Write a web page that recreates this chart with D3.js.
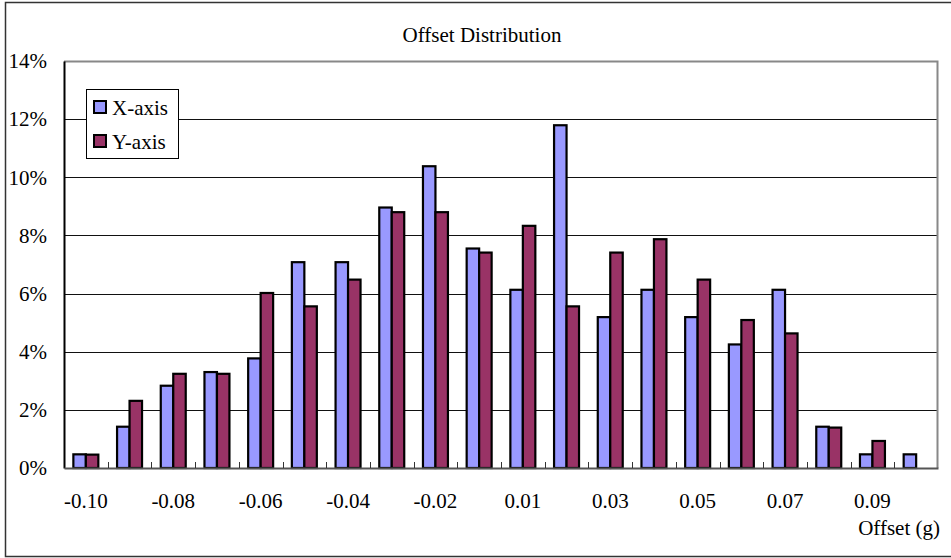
<!DOCTYPE html>
<html>
<head>
<meta charset="utf-8">
<script src="https://cdn.jsdelivr.net/npm/d3@7"></script>
<style>
  html, body { margin: 0; padding: 0; background: #fff; }
  svg { display: block; font-family: 'Liberation Serif', 'Times New Roman', serif; }
</style>
</head>
<body>
<svg id="chart"></svg>
<script>
const categories = ['-0.10', '-0.09', '-0.08', '-0.07', '-0.06', '-0.05', '-0.04', '-0.03', '-0.02', '-0.01',
  '0.01', '0.02', '0.03', '0.04', '0.05', '0.06', '0.07', '0.08', '0.09', '0.10'];
const shownLabels = ['-0.10', '-0.08', '-0.06', '-0.04', '-0.02', '0.01', '0.03', '0.05', '0.07', '0.09'];
const seriesNames = ['X-axis', 'Y-axis'];
const xAxisValues = [0.47, 1.42, 2.83, 3.30, 3.77, 7.08, 7.08, 8.96, 10.38, 7.55,
  6.13, 11.79, 5.19, 6.13, 5.19, 4.25, 6.13, 1.42, 0.47, 0.47];
const yAxisValues = [0.46, 2.31, 3.24, 3.24, 6.02, 5.56, 6.48, 8.80, 8.80, 7.41,
  8.33, 5.56, 7.41, 7.87, 6.48, 5.09, 4.63, 1.39, 0.93, 0];
const yTicks = [0, 2, 4, 6, 8, 10, 12, 14];

const W = 951, H = 558;
const margin = { top: 61, right: 13, bottom: 90, left: 64 };
const width = W - margin.left - margin.right;
const height = H - margin.top - margin.bottom;
const colors = { 'X-axis': '#9999ff', 'Y-axis': '#993366' };
const fontSize = '21px';
const serif = "'Liberation Serif', 'Times New Roman', serif";

const root = d3.select('#chart').attr('width', W).attr('height', H);

// outer chart frame (right side runs off the picture)
root.append('rect')
  .attr('x', 5.5).attr('y', 2.5)
  .attr('width', W + 20).attr('height', 554)
  .attr('fill', 'none')
  .attr('stroke', '#333')
  .attr('stroke-width', 1.5);

root.append('text')
  .attr('x', 482)
  .attr('y', 42)
  .attr('text-anchor', 'middle')
  .style('font-size', fontSize)
  .text('Offset Distribution');

const svg = root.append('g')
  .attr('transform', `translate(${margin.left},${margin.top})`);

const x0 = d3.scaleBand().domain(categories).range([0, width]).paddingInner(0).paddingOuter(0);
const x1 = d3.scaleBand().domain(seriesNames).range([0, x0.bandwidth()]).paddingInner(0).paddingOuter(0.75);
const y = d3.scaleLinear().domain([0, 14]).range([height, 0]);

// gridlines
svg.append('g')
  .selectAll('line')
  .data(yTicks.filter(d => d > 0 && d < 14))
  .join('line')
  .attr('x1', 0).attr('x2', width)
  .attr('y1', d => Math.round(y(d)) + 0.5)
  .attr('y2', d => Math.round(y(d)) + 0.5)
  .attr('stroke', '#111')
  .attr('stroke-width', 1);

// plot area border (top / right)
svg.append('path')
  .attr('d', `M0,0.5H${width - 0.5}V${height}`)
  .attr('fill', 'none')
  .attr('stroke', '#888')
  .attr('stroke-width', 2);

// bars
const rows = categories.map((c, i) => ({ cat: c, vals: [xAxisValues[i], yAxisValues[i]] }));
svg.append('g')
  .selectAll('g')
  .data(rows)
  .join('g')
  .attr('transform', d => `translate(${x0(d.cat)},0)`)
  .selectAll('rect')
  .data(d => seriesNames.map((s, j) => ({ name: s, value: d.vals[j] })).filter(d => d.value > 0))
  .join('rect')
  .attr('x', d => x1(d.name))
  .attr('y', d => y(d.value))
  .attr('width', x1.bandwidth())
  .attr('height', d => height - y(d.value))
  .attr('fill', d => colors[d.name])
  .attr('stroke', '#000')
  .attr('stroke-width', 2.2);

// y axis
const yAxis = svg.append('g')
  .call(d3.axisLeft(y).tickValues(yTicks).tickFormat(d => d + '%').tickSize(0).tickPadding(17));
yAxis.select('.domain').attr('stroke', '#000').attr('stroke-width', 2);
yAxis.selectAll('text')
  .style('font-size', fontSize)
  .style('font-family', serif)
  .attr('fill', '#000');

// x axis
const xAxis = svg.append('g')
  .attr('transform', `translate(0,${height})`)
  .call(d3.axisBottom(x0).tickValues(shownLabels).tickSize(0).tickPadding(25));
xAxis.select('.domain').attr('stroke', '#555').attr('stroke-width', 2);
xAxis.selectAll('text')
  .style('font-size', fontSize)
  .style('font-family', serif)
  .attr('fill', '#000');

// category boundary ticks, pointing inward
svg.append('g')
  .selectAll('line')
  .data(categories.slice(1))
  .join('line')
  .attr('x1', d => Math.round(x0(d)) + 0.5)
  .attr('x2', d => Math.round(x0(d)) + 0.5)
  .attr('y1', height)
  .attr('y2', height - 6)
  .attr('stroke', '#333')
  .attr('stroke-width', 1);

root.append('text')
  .attr('x', 940)
  .attr('y', 535)
  .attr('text-anchor', 'end')
  .style('font-size', fontSize)
  .text('Offset (g)');

// legend
const legend = root.append('g').attr('transform', 'translate(86,89)');
legend.append('rect')
  .attr('x', 0.5).attr('y', 0.5)
  .attr('width', 92).attr('height', 69)
  .attr('fill', '#fff')
  .attr('stroke', '#000')
  .attr('stroke-width', 1);
seriesNames.forEach((s, i) => {
  legend.append('rect')
    .attr('x', 8).attr('y', 12 + i * 34)
    .attr('width', 12).attr('height', 12)
    .attr('fill', colors[s])
    .attr('stroke', '#000')
    .attr('stroke-width', 2);
  legend.append('text')
    .attr('x', 26)
    .attr('y', 26 + i * 34)
    .style('font-size', fontSize)
    .text(s);
});
</script>
</body>
</html>
